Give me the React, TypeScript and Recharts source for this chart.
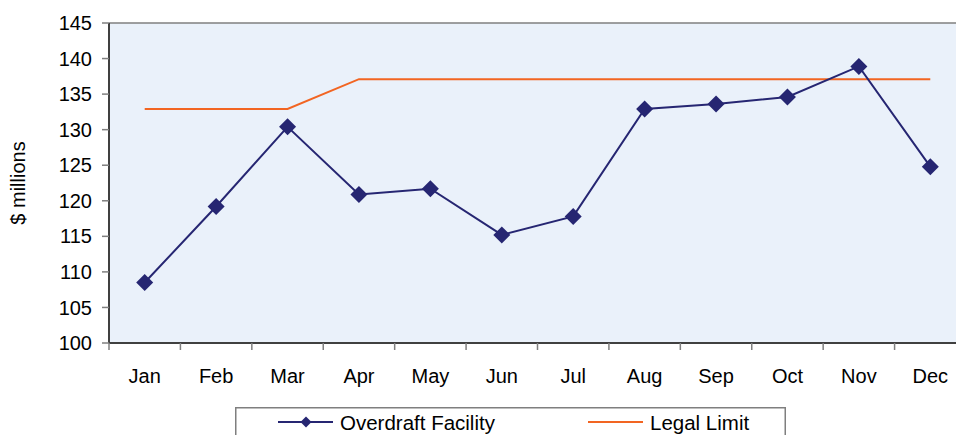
import React from "react";
import { CartesianGrid, Legend, Line, LineChart, ReferenceLine, XAxis, YAxis } from "recharts";

const months = ["Jan", "Feb", "Mar", "Apr", "May", "Jun", "Jul", "Aug", "Sep", "Oct", "Nov", "Dec"];
const overdraft = [108.5, 119.2, 130.4, 120.9, 121.7, 115.2, 117.8, 132.9, 133.6, 134.6, 138.9, 124.8];
const legalLimit = [132.9, 132.9, 132.9, 137.1, 137.1, 137.1, 137.1, 137.1, 137.1, 137.1, 137.1, 137.1];
const yTicks = [100, 105, 110, 115, 120, 125, 130, 135, 140, 145];

const NAVY = "#262672";
const ORANGE = "#F26522";
const FONT = '"Liberation Sans", Arial, sans-serif';

const CHART_W = 976;
const CHART_H = 435;
const MARGIN = { top: 23, right: 10, bottom: 0, left: 0 };
const Y_AXIS_W = 109;
const X_AXIS_H = 92;
// category band width: months sit in the middle of their band, tick marks on the band edges
const BAND = (CHART_W - MARGIN.left - MARGIN.right - Y_AXIS_W) / months.length;

const rows = months.map((month, i) => ({
  month,
  overdraft: overdraft[i],
  legal: legalLimit[i],
}));

function diamondPath(cx: number, cy: number, r: number) {
  return `M${cx},${cy - r}L${cx + r},${cy}L${cx},${cy + r}L${cx - r},${cy}Z`;
}

function DiamondDot(props: any) {
  const { cx, cy, index } = props;
  if (cx == null || cy == null) return <g key={`d-${index}`} />;
  return <path key={`d-${index}`} d={diamondPath(cx, cy, 8.5)} fill={NAVY} />;
}

function MonthTick(props: any) {
  const { x, y, payload, index } = props;
  const edge = x - BAND / 2;
  return (
    <g>
      <line x1={edge} x2={edge} y1={y} y2={y + 7} stroke="#7f7f7f" strokeWidth={1.5} />
      {index === months.length - 1 && (
        <line x1={x + BAND / 2} x2={x + BAND / 2} y1={y} y2={y + 7} stroke="#7f7f7f" strokeWidth={1.5} />
      )}
      <text x={x} y={y + 40} textAnchor="middle" fontSize={20} fill="#000" fontFamily={FONT}>
        {payload.value}
      </text>
    </g>
  );
}

function YTitle(props: any) {
  const vb = props.viewBox || { x: 0, y: 0, height: 0 };
  const x = vb.x + 25;
  const y = vb.y + vb.height / 2;
  return (
    <text x={x} y={y} transform={`rotate(-90 ${x} ${y})`} textAnchor="middle" fontSize={20} fill="#000" fontFamily={FONT}>
      $ millions
    </text>
  );
}

const legendItems = [
  { name: "Overdraft Facility", color: NAVY, marker: true, x: 43 },
  { name: "Legal Limit", color: ORANGE, marker: false, x: 353 },
];

function LegendBox() {
  return (
    <svg width={551} height={40} style={{ display: "block" }}>
      <rect x={0.75} y={0.75} width={549.5} height={45} fill="#fff" stroke="#7f7f7f" strokeWidth={1.5} />
      {legendItems.map((it) => (
        <g key={it.name}>
          <line x1={it.x} x2={it.x + 55} y1={15} y2={15} stroke={it.color} strokeWidth={2} />
          {it.marker && <path d={diamondPath(it.x + 28, 15, 5.5)} fill={it.color} />}
          <text x={it.x + 62} y={22.5} fontSize={20.5} fill="#000" fontFamily={FONT}>
            {it.name}
          </text>
        </g>
      ))}
    </svg>
  );
}

export default function App() {
  return (
    <div
      style={{
        position: "fixed",
        left: 0,
        top: 0,
        width: 956,
        height: 435,
        overflow: "hidden",
        background: "#fff",
        fontFamily: FONT,
      }}
    >
      <LineChart width={CHART_W} height={CHART_H} data={rows} margin={MARGIN}>
        <CartesianGrid horizontal={false} vertical={false} fill="#EAF1FA" />
        <XAxis
          dataKey="month"
          height={X_AXIS_H}
          interval={0}
          padding={{ left: BAND / 2, right: BAND / 2 }}
          tickSize={0}
          tickMargin={0}
          tickLine={false}
          axisLine={{ stroke: "#404040", strokeWidth: 2 }}
          tick={<MonthTick />}
        />
        <YAxis
          width={Y_AXIS_W}
          domain={[100, 145]}
          ticks={yTicks}
          interval={0}
          tickSize={7}
          tickMargin={10}
          tickLine={{ stroke: "#7f7f7f", strokeWidth: 1.5 }}
          axisLine={{ stroke: "#404040", strokeWidth: 2 }}
          tick={{ fontSize: 20, fill: "#000", fontFamily: FONT }}
          label={YTitle}
        />
        <ReferenceLine y={145} stroke="#7f7f7f" strokeWidth={1.5} />
        <Line
          dataKey="legal"
          name="Legal Limit"
          stroke={ORANGE}
          strokeWidth={2}
          dot={false}
          activeDot={false}
          isAnimationActive={false}
        />
        <Line
          dataKey="overdraft"
          name="Overdraft Facility"
          stroke={NAVY}
          strokeWidth={2}
          dot={DiamondDot}
          activeDot={false}
          isAnimationActive={false}
        />
        <Legend
          layout="vertical"
          align="center"
          verticalAlign="middle"
          wrapperStyle={{ left: 235, top: 407, width: 551, height: 40 }}
          content={<LegendBox />}
        />
      </LineChart>
    </div>
  );
}
